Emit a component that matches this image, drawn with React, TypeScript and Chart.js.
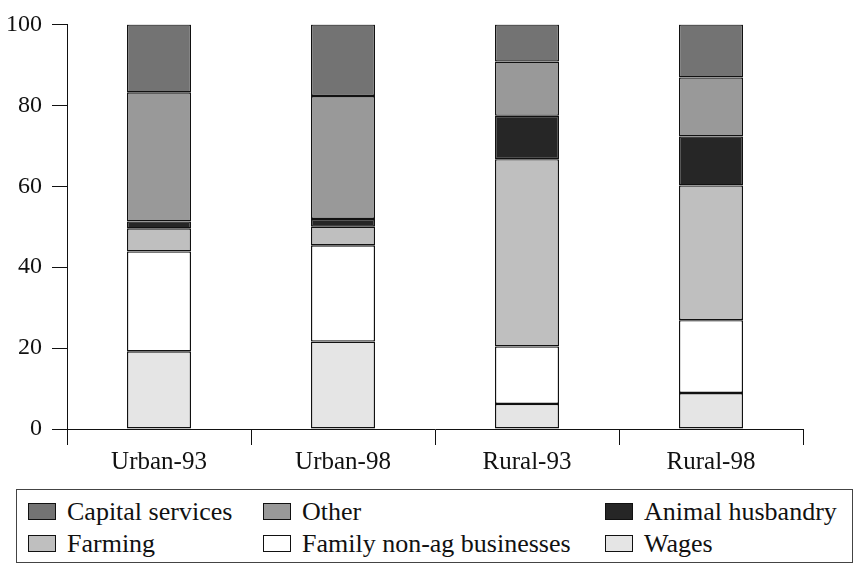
import React, { useEffect, useRef } from 'react';
import { Chart, registerables } from 'chart.js';

Chart.register(...registerables);

const categories = ['Urban-93', 'Urban-98', 'Rural-93', 'Rural-98'];
const wages = [19.2, 21.6, 6.2, 8.9];
const familyNonAg = [24.7, 23.8, 14.2, 18.0];
const farming = [5.7, 4.6, 46.3, 33.3];
const animalHusbandry = [1.7, 1.9, 10.7, 12.1];
const other = [31.9, 30.4, 13.4, 14.6];
const capitalServices = [16.8, 17.7, 9.2, 13.1];
const yTickValues = [0, 20, 40, 60, 80, 100];

const seriesNames = ['Wages', 'Family non-ag businesses', 'Farming', 'Animal husbandry', 'Other', 'Capital services'];
const seriesData = [wages, familyNonAg, farming, animalHusbandry, other, capitalServices];
const seriesColors = ['#e5e5e5', '#ffffff', '#bfbfbf', '#262626', '#999999', '#737373'];
const legendOrder = ['Capital services', 'Other', 'Animal husbandry', 'Farming', 'Family non-ag businesses', 'Wages'];

const FONT = "'Liberation Serif', Tinos, 'DejaVu Serif', serif";

export default function App() {
  const canvasRef = useRef<HTMLCanvasElement | null>(null);

  useEffect(() => {
    const canvas = canvasRef.current;
    if (!canvas) return;
    const chart = new Chart(canvas, {
      type: 'bar',
      data: {
        labels: categories,
        datasets: seriesNames.map((name, i) => ({
          label: name,
          data: seriesData[i],
          backgroundColor: seriesColors[i],
          borderColor: '#111111',
          borderWidth: 1.4,
          borderSkipped: false,
          inflateAmount: 0,
          categoryPercentage: 1,
          barPercentage: 0.348,
        })),
      },
      options: {
        responsive: false,
        animation: false,
        layout: { padding: { top: 0, right: 50, bottom: 0, left: 0 } },
        plugins: { legend: { display: false }, tooltip: { enabled: false } },
        scales: {
          x: {
            stacked: true,
            offset: true,
            grid: { drawOnChartArea: false, drawTicks: true, tickLength: 16, color: '#111', offset: true },
            border: { display: true, color: '#111', width: 1 },
            ticks: { color: '#111', font: { family: FONT, size: 25 }, padding: 2, maxRotation: 0 },
            afterFit: (s: any) => { s.height = 51; },
          },
          y: {
            stacked: true,
            min: 0,
            max: 100,
            afterBuildTicks: (s: any) => { s.ticks = yTickValues.map((v) => ({ value: v })); },
            grid: { drawOnChartArea: false, drawTicks: true, tickLength: 15, color: '#111' },
            border: { display: true, color: '#111', width: 1 },
            ticks: { color: '#111', font: { family: FONT, size: 24 }, padding: 10 },
            afterFit: (s: any) => { s.width = 67; },
          },
        },
      },
    });
    return () => chart.destroy();
  }, []);

  const swatchLeft = [28, 263, 605];
  const rowsTop = [503, 535];

  return (
    <div style={{ position: 'absolute', left: 0, top: 0, width: 853, height: 563, background: '#fff' }}>
      <canvas ref={canvasRef} width={853} height={480} style={{ position: 'absolute', left: 0, top: 0, width: 853, height: 480 }} />
      <div style={{ position: 'absolute', left: 16, top: 489, width: 835, height: 72, border: '1px solid #444', boxSizing: 'content-box' }} />
      {legendOrder.map((name, k) => {
        const idx = seriesNames.indexOf(name);
        const col = k % 3;
        const row = Math.floor(k / 3);
        return (
          <div key={name} style={{ position: 'absolute', left: swatchLeft[col], top: rowsTop[row] - 6, height: 29, display: 'flex', alignItems: 'center', whiteSpace: 'nowrap' }}>
            <div style={{ width: 26, height: 15, background: seriesColors[idx], border: '1px solid #111', marginRight: 11 }} />
            <span style={{ fontFamily: FONT, fontSize: 26, color: '#111', lineHeight: '29px' }}>{name}</span>
          </div>
        );
      })}
    </div>
  );
}
